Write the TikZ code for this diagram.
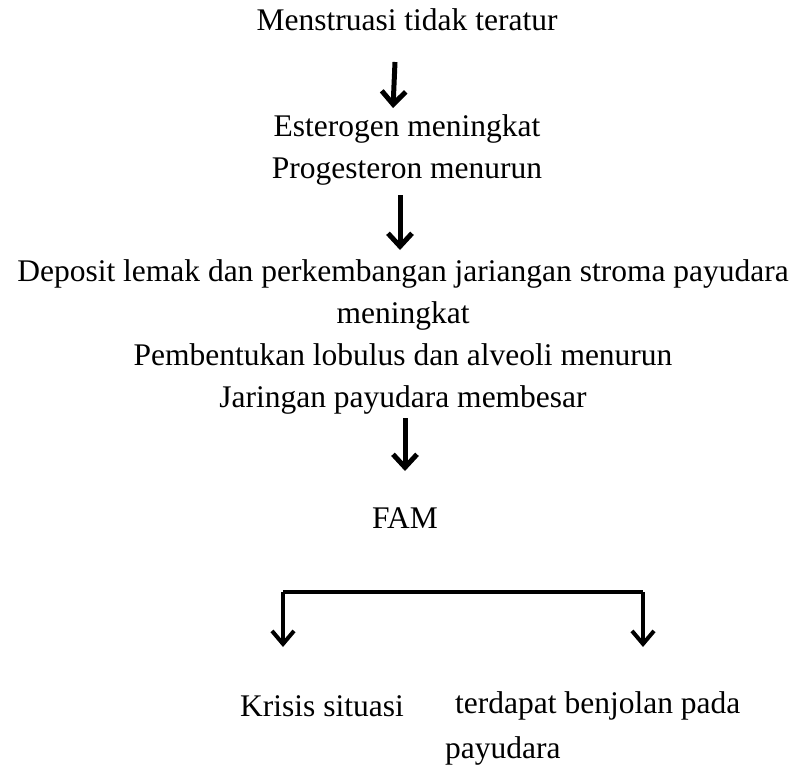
\documentclass[tikz,border=0pt]{standalone}
\usepackage{fontspec}
\setmainfont{Liberation Serif}
\usetikzlibrary{positioning,arrows.meta}
\tikzset{
  txt/.style={inner sep=0pt, align=center, font=\fontsize{31.5}{42}\selectfont},
  arr/.style={line width=5pt, -{Straight Barb[length=13pt,width=24pt]}},
  brk/.style={line width=4pt, -{Straight Barb[length=13pt,width=22pt]}}
}
\begin{document}
\begin{tikzpicture}[x=1pt,y=-1pt]
  \useasboundingbox (0,0) rectangle (803,776);
  % text
  \node[txt] (mens) at (407,20) {Menstruasi tidak teratur};
  \node[txt] (hormon) at (407,150) {Esterogen meningkat\\Progesteron menurun};
  \node[txt] (jar) at (403,337) {Deposit lemak dan perkembangan jariangan stroma payudara\\meningkat\\Pembentukan lobulus dan alveoli menurun\\Jaringan payudara membesar};
  \node[txt] (fam) at (405,518) {FAM};
  \node[txt] (krisis) at (322,706) {Krisis situasi};
  \node[txt, anchor=west] (benj) at (455,706) {terdapat benjolan pada};
  \node[txt, anchor=west] (pay) at (445,751) {payudara};
  % arrows
  \draw[arr] ([xshift=-12pt]mens.center) ++(0,42) -- ++(-2,46);
  \draw[arr] ([xshift=-7pt]hormon.center) ++(0,45) -- ++(0,55);
  \draw[arr] ([xshift=2pt]jar.center) ++(0,81) -- ++(0,53);
  % bracket
  \coordinate (bl) at (283,592);
  \coordinate (br) at (643,592);
  \draw[line width=4pt] (bl) -- (br);
  \draw[brk] (bl) -- ++(0,55);
  \draw[brk] (br) -- ++(0,55);
\end{tikzpicture}
\end{document}
